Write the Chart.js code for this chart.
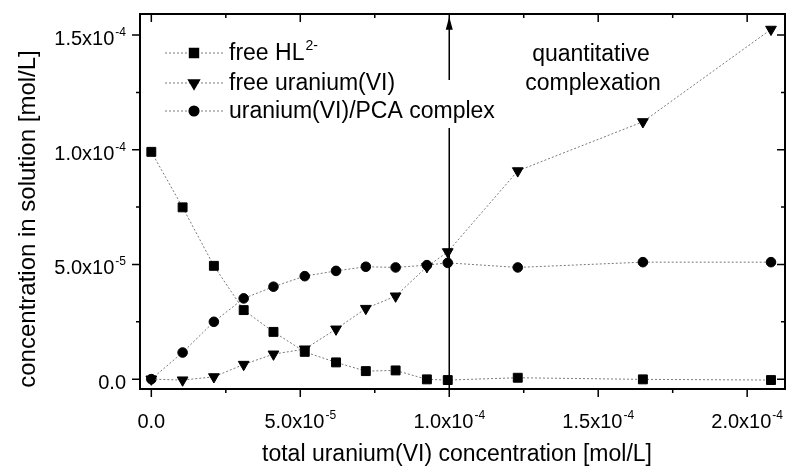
<!DOCTYPE html>
<html>
<head>
<meta charset="utf-8">
<script src="https://cdn.jsdelivr.net/npm/chart.js@4.4.1/dist/chart.umd.min.js"></script>
<style>
  html, body { margin: 0; padding: 0; background: #fff; }
  canvas { display: block; }
</style>
</head>
<body>
<canvas id="speciation" width="793" height="470"></canvas>
<script>
// total uranium(VI) concentration, in 1e-6 mol/L
const totalU = [0, 10.5, 21, 31, 41, 51.5, 62, 72, 82, 92.5, 99.5, 123, 165, 208];

// species concentrations, in 1e-6 mol/L
const freeHL = [99.1, 74.9, 49.4, 30.1, 20.6, 11.9, 7.3, 3.5, 3.8, -0.1, -0.4, 0.6, -0.1, -0.4];
const freeU = [0, -0.4, 1.0, 6.4, 10.9, 13.1, 21.8, 30.8, 36.2, 49, 55.5, 90.8, 112.2, 152.5];
const complexUPCA = [0, 11.6, 25, 35.2, 40.3, 44.9, 47.2, 49, 48.7, 49.7, 50.7, 48.7, 51, 51];

const seriesNames = ['free HL', 'free uranium(VI)', 'uranium(VI)/PCA complex'];
const seriesSup = ['2-', '', ''];

// axis ticks (1e-6 mol/L); labels only on the major ones
const xTicks = [0, 25, 50, 75, 100, 125, 150, 175, 200];
const xMajor = [0, 50, 100, 150, 200];
const yTicks = [0, 25, 50, 75, 100, 125, 150];
const yMajor = [0, 50, 100, 150];

// arrow marking the 1:1 point, in 1e-6 mol/L
const arrowX = 100;
const arrowSpan = [-4.3, 109.5, 130.4, 158];

const FONT = '"Liberation Sans", Arial, sans-serif';
const LINE = '#7a7a7a';

const pts = (ys) => totalU.map((x, i) => ({ x: x, y: ys[i] }));

function series(label, ys, style, radius, rotation) {
    return {
        label: label,
        data: pts(ys),
        borderColor: LINE,
        borderWidth: 1,
        borderDash: [2, 2],
        pointStyle: style,
        pointRadius: radius,
        pointRotation: rotation,
        pointBackgroundColor: '#000',
        pointBorderColor: '#000',
        pointBorderWidth: 1,
        tension: 0,
        clip: false
    };
}

// "m.mx10^e" label with raised exponent
function sciParts(v) {
    if (v === 0) return ['0.0', ''];
    const e = Math.floor(Math.log10(v) + 1e-9);
    const m = v / Math.pow(10, e);
    return [m.toFixed(1) + 'x10', String(e)];
}

function drawSup(ctx, main, sup, x, y, align, size) {
    ctx.font = size + 'px ' + FONT;
    const w1 = ctx.measureText(main).width;
    ctx.font = Math.round(size * 0.62) + 'px ' + FONT;
    const w2 = sup ? ctx.measureText(sup).width + 1 : 0;
    let x0 = x;
    if (align === 'center') x0 = x - (w1 + w2) / 2;
    if (align === 'right') x0 = x - (w1 + w2);
    ctx.textAlign = 'left';
    ctx.textBaseline = 'alphabetic';
    ctx.font = size + 'px ' + FONT;
    ctx.fillText(main, x0, y);
    if (sup) {
        ctx.font = Math.round(size * 0.62) + 'px ' + FONT;
        ctx.fillText(sup, x0 + w1 + 1, y - size * 0.45);
    }
}

const framePlugin = {
    id: 'frame',
    beforeDatasetsDraw(chart) {
        const { ctx } = chart;
        const xs = chart.scales.x, ys = chart.scales.y;
        const ax = xs.getPixelForValue(arrowX);
        ctx.save();
        ctx.strokeStyle = '#000';
        ctx.lineWidth = 1.5;
        ctx.beginPath();
        ctx.moveTo(ax, ys.getPixelForValue(arrowSpan[0]));
        ctx.lineTo(ax, ys.getPixelForValue(arrowSpan[1]));
        ctx.moveTo(ax, ys.getPixelForValue(arrowSpan[2]));
        ctx.lineTo(ax, ys.getPixelForValue(arrowSpan[3]) + 10);
        ctx.stroke();
        const tip = ys.getPixelForValue(arrowSpan[3]);
        ctx.fillStyle = '#000';
        ctx.beginPath();
        ctx.moveTo(ax, tip);
        ctx.lineTo(ax - 3.5, tip + 13);
        ctx.lineTo(ax + 3.5, tip + 13);
        ctx.closePath();
        ctx.fill();
        ctx.restore();
    },
    afterDatasetsDraw(chart) {
        const { ctx, chartArea: a } = chart;
        const xs = chart.scales.x, ys = chart.scales.y;
        ctx.save();
        ctx.strokeStyle = '#000';
        ctx.fillStyle = '#000';
        ctx.lineWidth = 2;
        ctx.strokeRect(a.left, a.top, a.right - a.left, a.bottom - a.top);

        // ticks: outward on bottom/left, inward on top/right
        ctx.lineWidth = 1.5;
        ctx.beginPath();
        xTicks.forEach(v => {
            const px = xs.getPixelForValue(v);
            const len = xMajor.includes(v) ? 8 : 4;
            ctx.moveTo(px, a.bottom); ctx.lineTo(px, a.bottom + len);
            ctx.moveTo(px, a.top); ctx.lineTo(px, a.top + len);
        });
        yTicks.forEach(v => {
            const py = ys.getPixelForValue(v);
            const len = yMajor.includes(v) ? 8 : 4;
            ctx.moveTo(a.left, py); ctx.lineTo(a.left - len, py);
            ctx.moveTo(a.right, py); ctx.lineTo(a.right - len, py);
        });
        ctx.stroke();

        xMajor.forEach(v => {
            const [m, e] = sciParts(v * 1e-6);
            drawSup(ctx, m, e, xs.getPixelForValue(v), a.bottom + 39, 'center', 20);
        });
        yMajor.forEach(v => {
            const [m, e] = sciParts(v * 1e-6);
            drawSup(ctx, m, e, a.left - 14, ys.getPixelForValue(v) + 10, 'right', 20);
        });

        // axis titles
        ctx.textAlign = 'center';
        ctx.textBaseline = 'alphabetic';
        ctx.font = '23px ' + FONT;
        ctx.fillText('total uranium(VI) concentration [mol/L]', 457, 461);
        ctx.save();
        ctx.translate(35, 219);
        ctx.rotate(-Math.PI / 2);
        ctx.font = '24px ' + FONT;
        ctx.fillText('concentration in solution [mol/L]', 0, 0);
        ctx.restore();

        // annotation on the right of the arrow
        ctx.font = '23px ' + FONT;
        ctx.fillText('quantitative', 591, 61);
        ctx.fillText('complexation', 593, 90);

        // legend
        const rowY = [53, 83, 111];
        chart.data.datasets.forEach((ds, i) => {
            const y = rowY[i];
            ctx.save();
            ctx.strokeStyle = LINE;
            ctx.lineWidth = 1;
            ctx.setLineDash([2, 2]);
            ctx.beginPath();
            ctx.moveTo(165, y); ctx.lineTo(225, y);
            ctx.stroke();
            ctx.restore();
            Chart.helpers.drawPoint(ctx, {
                pointStyle: ds.pointStyle,
                radius: ds.pointRadius,
                rotation: ds.pointRotation,
                borderWidth: 1
            }, 194, y);
            drawSup(ctx, seriesNames[i], seriesSup[i], 229, y + 7, 'left', 23);
        });
        ctx.restore();
    }
};

new Chart(document.getElementById('speciation'), {
    type: 'line',
    data: {
        datasets: [
            series('free HL2-', freeHL, 'rect', 6.3, 0),
            series('free uranium(VI)', freeU, 'triangle', 6.2, 180),
            series('uranium(VI)/PCA complex', complexUPCA, 'circle', 4.8, 0)
        ]
    },
    options: {
        responsive: false,
        animation: false,
        layout: { padding: { left: 140, right: 8, top: 14, bottom: 81 } },
        plugins: {
            legend: { display: false },
            tooltip: { enabled: false }
        },
        scales: {
            x: {
                type: 'linear',
                min: -3.8,
                max: 212.7,
                ticks: { display: false },
                grid: { display: false, drawTicks: false },
                border: { display: false }
            },
            y: {
                type: 'linear',
                min: -4.3,
                max: 159.2,
                ticks: { display: false },
                grid: { display: false, drawTicks: false },
                border: { display: false }
            }
        }
    },
    plugins: [framePlugin]
});
</script>
</body>
</html>
